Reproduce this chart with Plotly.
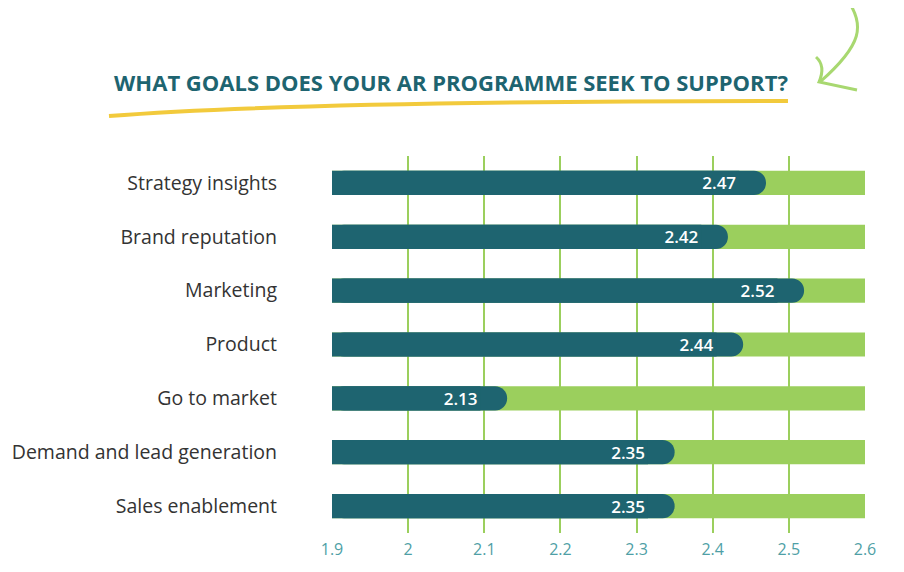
import plotly.graph_objects as go

categories = ["Strategy insights", "Brand reputation", "Marketing", "Product",
              "Go to market", "Demand and lead generation", "Sales enablement"]
scores = [2.47, 2.42, 2.52, 2.44, 2.13, 2.35, 2.35]
axis_min = 1.9
axis_max = 2.6
tick_vals = [1.9, 2.0, 2.1, 2.2, 2.3, 2.4, 2.5, 2.6]

dark = "#1e6470"
green = "#9bcf5d"

# plot area in page pixels (page has an 8px body margin)
L, R, T, B = 332, 865, 156, 533
OFF = 8


def px(x, y):
    return f"{(x - L) / (R - L):.4f},{(B - y) / (B - T):.4f}"


fig = go.Figure()

# full-length light track
fig.add_trace(go.Bar(
    y=categories, x=[axis_max - axis_min] * len(categories), base=axis_min,
    orientation="h", width=0.45, marker=dict(color=green, line_width=0),
    hoverinfo="skip", showlegend=False,
))
# score bar with rounded end
fig.add_trace(go.Bar(
    y=categories, x=[s - axis_min for s in scores], base=axis_min,
    orientation="h", width=0.45,
    marker=dict(color=dark, line_width=0, cornerradius=12),
    hoverinfo="skip", showlegend=False,
))
# square body on top: hides the rounded left corners and carries the label
fig.add_trace(go.Bar(
    y=categories, x=[s - axis_min - 0.035 for s in scores], base=axis_min,
    orientation="h", width=0.45, marker=dict(color=dark, line_width=0),
    text=[f"{s:.2f}" for s in scores], textposition="inside",
    insidetextanchor="end",
    textfont=dict(color="white", size=17, family="Open Sans", weight=600),
    hovertext=[f"{c}: {s:.2f}" for c, s in zip(categories, scores)],
    hoverinfo="text", showlegend=False,
))

fig.update_layout(
    width=904, height=572,
    margin=dict(l=L - OFF, r=904 - R + OFF, t=T - OFF, b=572 - B + OFF),
    barmode="overlay",
    plot_bgcolor="white", paper_bgcolor="white",
    font=dict(family="Open Sans", color="#333333"),
    title=dict(
        text="<b>WHAT GOALS DOES YOUR AR PROGRAMME SEEK TO SUPPORT?</b>",
        x=(451 - OFF) / 904, xanchor="center", y=1 - (83 - OFF) / 572, yanchor="middle",
        font=dict(size=22, color=dark, family="Open Sans"),
    ),
    uniformtext=dict(minsize=17, mode="show"),
    xaxis=dict(
        range=[axis_min, axis_max], tickvals=tick_vals,
        showgrid=True, gridcolor=green, gridwidth=2,
        zeroline=False, showline=False, automargin=False,
        tickfont=dict(size=16, color="#4f9fa6"), ticks="", ticklabelstandoff=5,
    ),
    yaxis=dict(
        autorange="reversed", showgrid=False, zeroline=False, automargin=False,
        tickfont=dict(size=19.5, color="#333333"), ticklabelstandoff=54,
    ),
    shapes=[
        # yellow brush underline
        dict(type="path", xref="paper", yref="paper",
             path=f"M {px(109, 116)} Q {px(300, 101)} {px(788, 101)}",
             line=dict(color="#f2ca3c", width=4)),
        # green arrow
        dict(type="path", xref="paper", yref="paper",
             path=f"M {px(846, -2)} C {px(866, 25)} {px(862, 45)} {px(820, 82)}",
             line=dict(color="#a8d870", width=3)),
        dict(type="path", xref="paper", yref="paper",
             path=f"M {px(816, 57)} Q {px(826, 66)} {px(819, 82)} L {px(857, 90)}",
             line=dict(color="#a8d870", width=3)),
    ],
)

fig.write_html("out.html")
